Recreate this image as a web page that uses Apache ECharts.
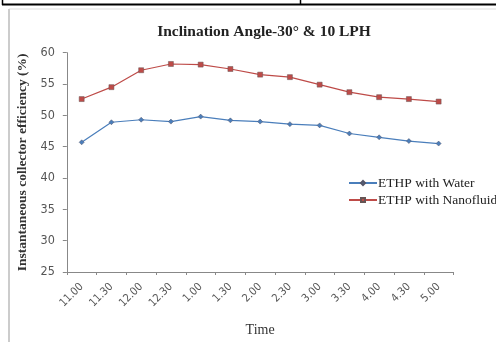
<!DOCTYPE html>
<html>
<head>
<meta charset="utf-8">
<script src="https://cdn.jsdelivr.net/npm/echarts@6/dist/echarts.min.js"></script>
<style>
html,body{margin:0;padding:0;background:#fff;}
#c{width:496px;height:342px;}
</style>
</head>
<body>
<div id="c"></div>
<script>
const categories = ["11.00","11.30","12.00","12.30","1.00","1.30","2.00","2.30","3.00","3.30","4.00","4.30","5.00"];
const water = [45.7,48.9,49.3,49.0,49.8,49.2,49.0,48.6,48.4,47.1,46.5,45.9,45.5];
const nano = [52.6,54.5,57.2,58.2,58.1,57.4,56.5,56.1,54.9,53.7,52.9,52.6,52.2];
const yTicks = [25,30,35,40,45,50,55,60];

const chart = echarts.init(document.getElementById('c'), null, {renderer:'canvas'});
const serif = "'Liberation Serif','Times New Roman',serif";
const narrow = "'Liberation Sans Narrow','DejaVu Sans Condensed','Liberation Sans',sans-serif";
chart.setOption({
  animation:false,
  backgroundColor:'#fff',
  title:{
    text:'Inclination Angle-30\u00B0 & 10 LPH',
    left:259, top:19, textAlign:'center',
    textStyle:{fontFamily:serif,fontWeight:'bold',fontSize:15.5,color:'#222'}
  },
  graphic:[
    {type:'line',shape:{x1:2,y1:4.5,x2:496,y2:4.5},style:{stroke:'#000',lineWidth:2}},
    {type:'line',shape:{x1:2.5,y1:0,x2:2.5,y2:5},style:{stroke:'#000',lineWidth:1.5}},
    {type:'line',shape:{x1:300.5,y1:0,x2:300.5,y2:5},style:{stroke:'#000',lineWidth:1.5}},
    {type:'line',shape:{x1:9,y1:9,x2:496,y2:9},style:{stroke:'#ddd',lineWidth:1}},
    {type:'line',shape:{x1:9,y1:9,x2:9,y2:342},style:{stroke:'#ccc',lineWidth:2}}
  ],
  grid:{left:66.8,right:42.5,top:52.7,bottom:62},
  legend:{
    orient:'vertical',left:343,top:171,itemGap:3,itemWidth:28,itemHeight:5,
    textStyle:{fontFamily:serif,fontSize:13.5,color:'#222',padding:[0,0,0,-4]},
    data:['ETHP with Water','ETHP with Nanofluid']
  },
  xAxis:{
    type:'category',data:categories,boundaryGap:true,
    name:'Time',nameLocation:'middle',nameGap:51,
    nameTextStyle:{fontFamily:serif,fontSize:14,color:'#333'},
    axisLine:{lineStyle:{color:'#888'}},
    axisTick:{show:true,alignWithLabel:false,length:3,lineStyle:{color:'#888'}},
    axisLabel:{rotate:45,fontFamily:narrow,fontSize:11,color:'#555',margin:13,interval:0}
  },
  yAxis:{
    type:'value',min:25,max:60,interval:5,
    name:'Instantaneous collector efficiency (%)',nameLocation:'middle',nameGap:36,
    nameTextStyle:{fontFamily:serif,fontSize:13.5,fontWeight:'bold',color:'#333'},
    axisLine:{show:true,lineStyle:{color:'#888'}},
    axisTick:{show:true,length:4,lineStyle:{color:'#888'}},
    splitLine:{show:false},
    axisLabel:{fontFamily:narrow,fontSize:12.5,color:'#555',margin:12,
      formatter:v=>yTicks.includes(v)?String(v):''}
  },
  series:[
    {name:'ETHP with Water',type:'line',data:water,symbol:'diamond',symbolSize:5,
     lineStyle:{color:'#4a7ebb',width:1.2},itemStyle:{color:'#4a7ebb',borderColor:'#556',borderWidth:0.5}},
    {name:'ETHP with Nanofluid',type:'line',data:nano,symbol:'rect',symbolSize:5,
     lineStyle:{color:'#be4b48',width:1.2},itemStyle:{color:'#be4b48',borderColor:'#655',borderWidth:0.5}}
  ]
});
</script>
</body>
</html>
